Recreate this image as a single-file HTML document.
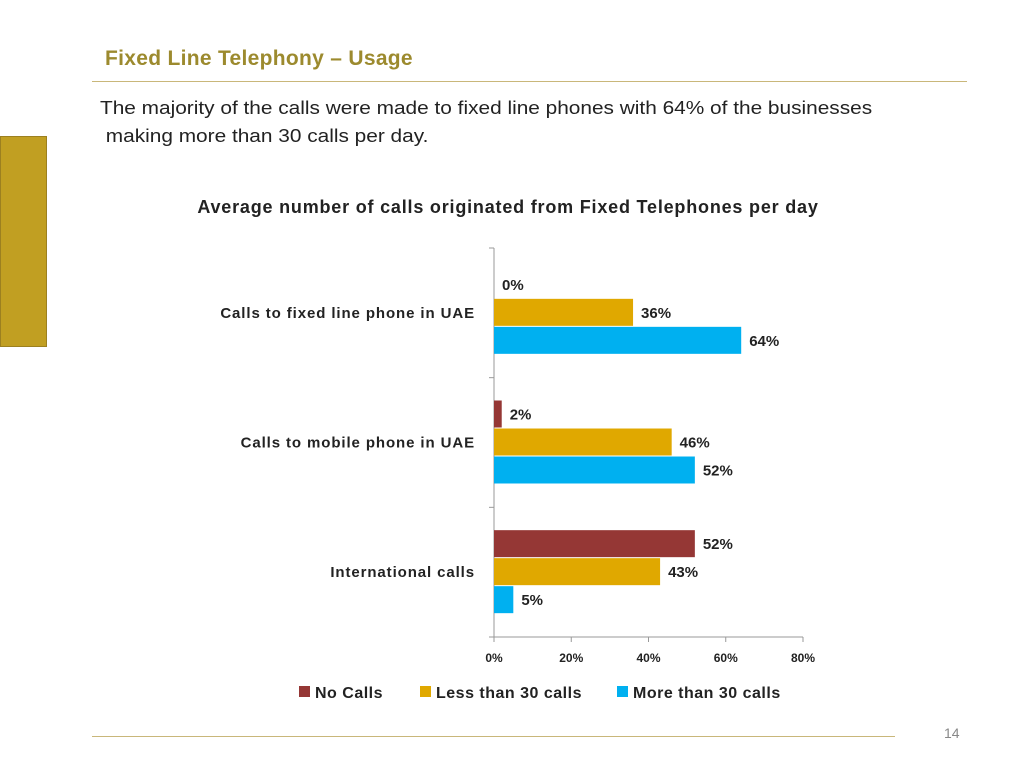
<!DOCTYPE html>
<html><head><meta charset="utf-8">
<style>
body{margin:0;width:1024px;height:768px;background:#fff;font-family:"Liberation Sans",sans-serif;position:relative;overflow:hidden}
.abs{position:absolute}
</style></head><body>
<div class="abs" style="left:105px;top:47px;font-size:21px;font-weight:bold;color:#9C8A2E;letter-spacing:0.3px">Fixed Line Telephony – Usage</div>
<div class="abs" style="left:92px;top:81px;width:875px;height:1px;background:#C9B77A"></div>
<div class="abs" style="left:0;top:136px;width:45px;height:209px;background:#C19F22;border:1px solid #9C8020"></div>
<div class="abs" style="left:100px;top:94px;font-size:18px;line-height:28px;color:#222;transform:scaleX(1.157);transform-origin:0 0;white-space:nowrap">The majority of the calls were made to fixed line phones with 64% of the businesses<br>&nbsp;making more than 30 calls per day.</div>
<div class="abs" style="left:0;width:1016px;text-align:center;top:197px;font-size:18px;font-weight:bold;color:#222;letter-spacing:0.8px">Average number of calls originated from Fixed Telephones per day</div>
<svg class="abs" style="left:0;top:0" width="1024" height="768" id="chart"></svg>
<div class="abs" style="left:92px;top:736px;width:803px;height:1px;background:#C9B77A"></div>
<div class="abs" style="left:944px;top:725px;font-size:14px;color:#888">14</div>
<script>
const categories=["Calls to fixed line phone in UAE","Calls to  mobile phone in UAE","International calls"];
const seriesNames=["No Calls","Less than 30 calls","More than 30 calls"];
const noCalls=[0,2,52];
const lessThan30=[36,46,43];
const moreThan30=[64,52,5];
const ticks=[0,20,40,60,80];
const colors=["#953735","#E0A800","#00B0F0"];
const svg=document.getElementById('chart');const NS="http://www.w3.org/2000/svg";
const x0=494,x1=803,yTop=248,yBot=637;
const xs=v=>x0+(v/80)*(x1-x0);
const band=(yBot-yTop)/categories.length;
function mk(t,a,txt){const e=document.createElementNS(NS,t);for(const k in a)e.setAttribute(k,a[k]);if(txt!==undefined)e.textContent=txt;svg.appendChild(e);return e;}
let ax=mk('line',{x1:x0,y1:yTop,x2:x0,y2:yBot,stroke:'#999'});

let bx=mk('line',{x1:x0,y1:yBot,x2:x1,y2:yBot,stroke:'#999'});

for(let i=0;i<=categories.length;i++){const y=yTop+i*band;mk('line',{x1:x0-5,y1:y,x2:x0,y2:y,stroke:'#999'});}
ticks.forEach(t=>{const x=xs(t);mk('line',{x1:x,y1:yBot,x2:x,y2:yBot+5,stroke:'#999'});
const tl=mk('text',{x:x,y:yBot+25,'text-anchor':'middle','font-size':12,'font-weight':'bold',fill:'#222'},t+'%');
});
const series=[noCalls,lessThan30,moreThan30];const bh=28;
categories.forEach((c,i)=>{const cy=yTop+i*band+band/2;
const cl=mk('text',{x:475,y:cy+5,'text-anchor':'end','font-size':15,'font-weight':'bold',fill:'#222','letter-spacing':'0.9px','xml:space':'preserve'},c);

series.forEach((s,j)=>{const y=cy-1.5*bh+j*bh;const v=s[i];
const r=mk('rect',{x:x0,y:y,width:xs(v)-x0,height:bh-1,fill:colors[j]});

const l=mk('text',{x:xs(v)+8,y:y+19,'font-size':15,'font-weight':'bold',fill:'#222'},v+'%');
});});
const lx=[299,420,617];
seriesNames.forEach((n,j)=>{mk('rect',{x:lx[j],y:686,width:11,height:11,fill:colors[j]});
const t=mk('text',{x:lx[j]+16,y:698,'font-size':16,'font-weight':'bold',fill:'#222','letter-spacing':'0.5px'},n);
});
</script>
</body></html>
